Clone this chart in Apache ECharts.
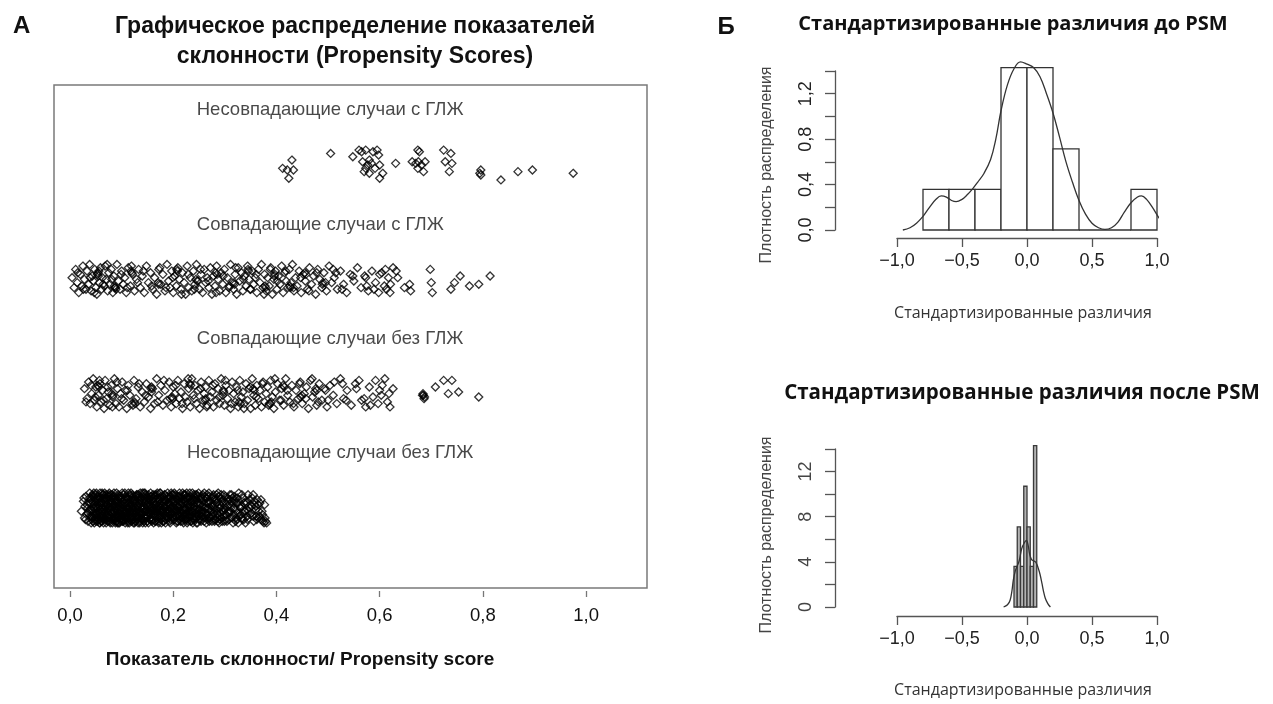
<!DOCTYPE html>
<html><head><meta charset="utf-8">
<script src="https://cdn.jsdelivr.net/npm/echarts@6.0.0/dist/echarts.min.js"></script>
<style>html,body{margin:0;padding:0;background:#fff}#c{width:1273px;height:704px}</style>
</head><body><div id="c"></div>
<script>
// ---------- Panel A data: propensity scores [score, vertical jitter (-9..9)] ----------
const groupNames = ['Несовпадающие случаи с ГЛЖ','Совпадающие случаи с ГЛЖ','Совпадающие случаи без ГЛЖ','Несовпадающие случаи без ГЛЖ'];
const unmatchedLVH = [[.430,-3],[.412,2],[.421,3],[.433,3],[.424,8],[.505,-7],[.548,-5],[.56,-9],[.565,-8],[.573,-9],[.567,-2],[.580,-3],[.587,-8],[.595,-9],[.598,-6],[.577,0],[.584,-1],[.570,4],[.580,5],[.591,2],[.600,0],[.606,5],[.600,8],[.573,2],[.631,-1],[.674,-9],[.677,-8],[.663,-2],[.670,-1],[.675,-2],[.681,0],[.688,-2],[.685,4],[.674,2],[.724,-9],[.738,-7],[.727,-2],[.740,-1],[.735,4],[.796,3],[.796,6],[.794,5],[.835,9],[.868,4],[.896,3],[.975,5]];
const matchedLVH = [[.004,-1],[.008,5],[.011,-6],[.014,2],[.017,8],[.02,-3],[.023,4],[.025,-8],[.028,0],[.031,6],[.033,-5],[.036,3],[.038,-9],[.041,7],[.043,-2],[.045,1],[.048,-6],[.05,5],[.052,9],[.054,-4],[.057,2],[.059,-7],[.061,6],[.063,-1],[.066,4],[.068,-8],[.07,0],[.073,7],[.075,-4],[.078,3],[.08,-6],[.083,8],[.085,-2],[.088,5],[.091,-9],[.094,1],[.097,6],[.1,-5],[.103,3],[.106,-1],[.109,8],[.113,-7],[.117,4],[.121,-3],[.125,7],[.129,0],[.133,-6],[.136,5],[.14,-2],[.144,8],[.148,-8],[.152,2],[.156,-4],[.16,6],[.164,-1],[.168,9],[.172,-6],[.176,3],[.18,-3],[.184,7],[.188,-9],[.191,1],[.194,5],[.197,-5],[.2,8],[.203,-2],[.206,4],[.209,-7],[.212,0],[.215,6],[.218,-4],[.221,2],[.224,9],[.227,-8],[.23,5],[.233,-1],[.236,7],[.239,-5],[.242,3],[.245,-9],[.248,1],[.251,6],[.254,-3],[.257,8],[.26,-6],[.263,2],[.266,-1],[.269,5],[.272,-7],[.275,9],[.278,-2],[.281,4],[.284,-8],[.287,0],[.29,7],[.293,-4],[.296,3],[.299,-6],[.302,8],[.305,-1],[.308,5],[.311,-9],[.314,2],[.317,6],[.32,-3],[.323,9],[.326,-7],[.329,1],[.332,-4],[.335,7],[.338,-2],[.341,4],[.344,-8],[.347,0],[.35,6],[.353,-5],[.356,3],[.359,-1],[.362,8],[.365,-6],[.368,2],[.371,-9],[.374,5],[.377,-3],[.38,7],[.383,-1],[.386,4],[.389,-7],[.392,9],[.395,0],[.398,-5],[.401,6],[.404,-2],[.407,3],[.41,-8],[.413,8],[.416,-4],[.419,1],[.422,5],[.425,-6],[.428,2],[.431,-9],[.434,7],[.437,-1],[.44,4],[.444,-5],[.448,8],[.452,-3],[.456,1],[.46,6],[.464,-7],[.468,3],[.472,-2],[.476,9],[.48,-6],[.484,0],[.488,5],[.492,-4],[.497,7],[.502,-8],[.507,2],[.512,-1],[.518,6],[.524,-5],[.53,3],[.536,8],[.543,-3],[.55,1],[.557,-7],[.564,5],[.571,-2],[.578,7],[.585,-5],[.592,2],[.598,8],[.604,-4],[.609,4],[.613,6],[.617,-1],[.621,3],[.632,-5],[.635,-1],[.648,5],[.658,3],[.66,7],[.698,-6],[.7,2],[.702,8],[.738,6],[.745,2],[.756,-2],[.774,4],[.792,3],[.814,-2],
  [.015,-4],[.026,6],[.039,-1],[.047,8],[.056,-5],[.064,3],[.072,-9],[.081,0],[.089,6],[.099,-3],[.111,5],[.119,-8],[.131,2],[.142,-5],[.158,4],[.174,-7],[.186,5],[.199,-1],[.216,9],[.229,-3],[.241,6],[.253,-6],[.268,1],[.283,8],[.297,-2],[.309,4],[.321,-7],[.336,0],[.349,6],[.361,-3],[.376,9],[.388,-6],[.402,1],[.418,-5],[.433,5],[.447,-1],[.463,7],[.478,-4],[.495,2],[.51,-6],[.527,6],[.548,-2],[.575,4],[.6,-3],[.62,8],[.626,-7],
  [.053,-3],[.055,-2],[.086,4],[.087,5],[.118,-5],[.12,-4],[.171,2],[.172,3],[.207,-6],[.208,-5],[.244,0],[.246,1],[.282,-4],[.285,-3],[.318,2],[.319,3],[.345,-6],[.346,-5],[.378,4],[.379,5],[.396,-2],[.397,-3],[.426,4],[.427,5],[.455,-4],[.457,-3],[.489,3],[.49,2],[.515,-4],[.573,-1],[.589,6],[.611,-6]];
const matchedNoLVH = [[.028,-3],[.033,3],[.036,-7],[.039,6],[.042,0],[.045,-9],[.047,4],[.05,-4],[.052,8],[.055,1],[.058,-6],[.06,5],[.063,-2],[.066,9],[.068,-8],[.071,3],[.074,-1],[.077,7],[.08,-5],[.083,2],[.086,-9],[.089,6],[.092,-3],[.095,8],[.098,0],[.101,-7],[.104,4],[.107,-2],[.11,9],[.113,-5],[.116,1],[.12,6],[.124,-8],[.128,3],[.132,-4],[.136,8],[.14,-1],[.144,5],[.148,-6],[.152,2],[.156,9],[.16,-3],[.164,6],[.168,-9],[.172,1],[.176,-5],[.18,7],[.184,-2],[.188,4],[.192,-7],[.196,8],[.2,-4],[.203,0],[.206,6],[.209,-8],[.212,3],[.215,-1],[.218,9],[.221,-6],[.224,2],[.227,5],[.23,-3],[.233,8],[.236,-9],[.239,1],[.242,-5],[.245,6],[.248,-2],[.251,9],[.254,-7],[.257,4],[.26,0],[.263,-4],[.266,7],[.269,-8],[.272,2],[.275,-1],[.278,8],[.281,-6],[.284,4],[.287,-3],[.29,6],[.293,-9],[.296,1],[.299,7],[.302,-5],[.305,3],[.308,-2],[.311,9],[.314,-7],[.317,0],[.32,5],[.323,-4],[.326,8],[.329,-8],[.332,2],[.335,-1],[.338,6],[.341,-6],[.344,4],[.347,-3],[.35,9],[.353,-9],[.356,1],[.359,7],[.362,-5],[.365,3],[.368,-2],[.371,8],[.374,-7],[.377,5],[.38,0],[.383,-4],[.386,6],[.389,-8],[.392,2],[.395,9],[.398,-1],[.402,-6],[.406,4],[.41,-3],[.414,7],[.418,-9],[.422,1],[.426,5],[.43,-5],[.434,8],[.438,-2],[.442,3],[.446,-7],[.45,6],[.454,0],[.458,-4],[.462,9],[.466,-8],[.47,2],[.474,-1],[.478,7],[.483,-6],[.488,4],[.493,-3],[.498,8],[.504,-5],[.51,1],[.517,6],[.524,-9],[.53,3],[.537,-2],[.545,7],[.553,-6],[.56,-8],[.565,4],[.573,8],[.58,-4],[.587,2],[.592,-8],[.597,6],[.603,1],[.61,-9],[.615,5],[.62,8],[.626,-3],[.683,1],[.685,1],[.687,2],[.708,-4],[.724,-8],[.733,0],[.74,-8],[.753,-1],[.792,2],
  [.031,5],[.041,-5],[.049,2],[.057,-8],[.065,4],[.073,-4],[.082,8],[.091,-7],[.1,3],[.111,-2],[.122,7],[.134,-6],[.146,1],[.158,-1],[.17,5],[.182,-8],[.194,3],[.205,-5],[.217,6],[.229,-9],[.241,3],[.253,-3],[.265,8],[.277,-5],[.289,2],[.301,-8],[.313,6],[.325,-2],[.337,9],[.349,-4],[.361,2],[.373,-6],[.385,7],[.397,-9],[.409,4],[.421,-2],[.433,6],[.445,-6],[.457,3],[.469,-9],[.481,5],[.495,-2],[.512,-7],[.535,4],[.555,-3],[.582,7],[.605,-5],[.618,0],[.684,0],[.686,3],
  [.054,-5],[.056,-4],[.081,0],[.083,1],[.125,5],[.126,6],[.157,-3],[.158,-4],[.198,2],[.199,3],[.232,-6],[.234,-5],[.262,4],[.263,3],[.297,-2],[.298,-1],[.328,5],[.33,6],[.355,-3],[.357,-2],[.388,6],[.39,5],[.413,-5],[.415,-4],[.447,2],[.449,1],[.476,-3],[.478,-2],[.5,4],[.528,-6],[.57,3],[.6,-2]];
const unmatchedNoLVH = [[.022,2],[.026,-4],[.028,6],[.029,-1],[.031,-7],[.032,4],[.034,0],[.035,8],[.036,-3],[.038,-9],[.039,5],[.037,2],[.041,-5],[.042,7],[.043,1],[.044,-8],[.045,3],[.046,-2],[.047,9],[.048,-6],[.049,4],[.044,6],[.046,-9],[.051,0],[.052,-4],[.053,8],[.054,-7],[.055,2],[.056,5],[.057,-1],[.058,-9],[.059,7],[.052,3],[.055,-5],[.058,9],[.061,-3],[.062,6],[.063,-8],[.064,1],[.065,9],[.066,-5],[.067,3],[.068,-1],[.069,7],[.061,4],[.064,-6],[.067,-9],[.069,0],[.071,5],[.072,-2],[.073,8],[.074,-7],[.075,0],[.076,4],[.077,-5],[.078,9],[.079,-3],[.072,2],[.075,-8],[.078,6],[.081,-6],[.082,3],[.083,-1],[.084,7],[.085,-9],[.086,5],[.087,-4],[.088,1],[.089,8],[.083,-7],[.086,-2],[.088,9],[.091,2],[.092,-5],[.093,6],[.094,-8],[.095,0],[.096,4],[.097,-3],[.098,8],[.099,-6],[.092,9],[.095,-1],[.097,3],[.101,-9],[.102,5],[.103,-2],[.104,7],[.105,-5],[.106,1],[.107,9],[.108,-7],[.109,3],[.103,-4],[.106,6],[.109,-1],[.111,0],[.112,-6],[.113,8],[.114,-3],[.115,4],[.116,-8],[.117,2],[.118,6],[.119,-4],[.112,9],[.115,-1],[.118,-9],[.121,7],[.122,-2],[.123,-7],[.124,3],[.125,9],[.126,-5],[.127,0],[.128,5],[.129,-8],[.124,-4],[.127,8],[.131,1],[.132,-6],[.133,6],[.134,-3],[.135,9],[.136,-9],[.137,4],[.138,-1],[.139,7],[.134,2],[.137,-5],[.141,-7],[.142,3],[.143,8],[.144,-4],[.145,0],[.146,6],[.147,-8],[.148,2],[.149,-2],[.143,-9],[.146,9],[.151,5],[.152,-3],[.153,-6],[.154,1],[.155,7],[.156,-9],[.157,4],[.158,-1],[.159,8],[.154,-5],[.161,-4],[.162,9],[.163,2],[.164,-7],[.165,5],[.166,-2],[.167,0],[.168,-8],[.169,6],[.163,-6],[.167,3],[.171,8],[.172,-1],[.173,-5],[.174,4],[.175,-9],[.176,7],[.177,1],[.178,-6],[.179,2],[.175,5],[.181,-3],[.182,6],[.183,-8],[.184,0],[.185,9],[.186,-4],[.187,3],[.188,-7],[.189,5],[.184,-1],[.191,1],[.192,-6],[.193,8],[.194,-2],[.195,4],[.196,-9],[.197,6],[.198,-4],[.199,2],[.195,-7],[.201,7],[.202,-3],[.203,0],[.204,-8],[.205,5],[.206,9],[.207,-5],[.208,2],[.209,-1],[.211,-7],[.212,4],[.213,-2],[.214,8],[.215,-4],[.216,1],[.217,6],[.218,-9],[.219,3],[.221,-5],[.222,7],[.223,0],[.224,-8],[.225,4],[.226,-2],[.227,9],[.228,-6],[.229,2],[.231,5],[.232,-1],[.233,-7],[.234,8],[.235,-4],[.236,2],[.237,-9],[.238,6],[.239,0],[.241,-3],[.242,7],[.243,-6],[.244,3],[.245,9],[.246,-8],[.247,1],[.248,5],[.249,-2],[.251,4],[.253,-5],[.254,8],[.256,-1],[.257,-8],[.259,6],[.255,2],[.261,-7],[.262,3],[.264,9],[.265,-3],[.267,0],[.268,6],[.269,-9],[.271,5],[.272,-4],[.274,1],[.275,8],[.277,-6],[.279,3],[.281,-2],[.282,7],[.284,-8],[.286,4],[.287,-4],[.289,9],[.291,0],[.292,-6],[.294,6],[.296,-3],[.297,2],[.299,8],[.301,-7],[.303,4],[.305,-1],[.307,7],[.309,-5],[.311,2],[.313,-8],[.315,6],[.317,0],[.319,-4],[.321,8],[.323,-3],[.325,3],[.327,-9],[.329,5],[.332,-1],[.334,7],[.336,-6],[.338,2],[.341,-4],[.343,5],[.345,-8],[.348,0],[.351,3],[.353,-6],[.356,8],[.358,-2],[.361,5],[.363,-5],[.366,2],[.368,-3],[.371,7],[.373,4],[.376,9],[.378,6],[.381,9],
  [.027,-6],[.03,7],[.033,-2],[.035,3],[.038,-6],[.04,1],[.041,9],[.043,-4],[.045,-7],[.047,5],[.048,0],[.05,8],[.05,-8],[.051,3],[.053,-2],[.054,6],[.056,-6],[.057,9],[.058,1],[.06,-4],[.06,8],[.062,-9],[.063,2],[.065,-2],[.066,7],[.068,-6],[.07,4],[.07,-8],[.071,1],[.073,-5],[.074,6],[.076,-1],[.077,8],[.079,-8],[.08,3],[.08,-3],[.082,9],[.084,-5],[.085,2],[.087,7],[.089,-3],[.09,5],[.09,-9],[.091,-1],[.093,3],[.094,9],[.096,-7],[.098,1],[.1,6],[.1,-2],[.101,4],[.103,8],[.104,-8],[.106,-3],[.107,2],[.109,7],[.11,-6],[.11,4],[.112,1],[.113,-9],[.114,6],[.116,3],[.117,-2],[.119,8],[.12,-5],[.12,1],[.122,5],[.123,9],[.125,-3],[.126,2],[.128,-7],[.129,7],[.13,-1],[.13,4],[.132,9],[.133,-8],[.135,-4],[.136,3],[.138,6],[.139,-6],[.14,1],[.14,-9],[.142,7],[.144,2],[.145,-6],[.147,5],[.148,-4],[.15,8],[.15,-1],[.152,-8],[.153,3],[.155,-2],[.156,6],[.158,-7],[.159,2],[.16,-5],[.16,7],[.162,0],[.164,4],[.165,-8],[.166,8],[.168,-3],[.169,1],[.17,-6],[.17,5],[.172,9],[.173,-2],[.174,-9],[.176,2],[.177,6],[.178,-4],[.18,8],[.18,-7],[.182,1],[.183,4],[.185,-5],[.186,7],[.188,-1],[.189,-9],[.19,3],[.19,-3],[.192,6],[.193,-7],[.194,9],[.196,0],[.197,-5],[.199,5],[.2,-8],[.2,2],[.202,7],[.204,-4],[.205,1],[.207,8],[.208,-7],[.21,4],[.21,-2],[.212,-9],[.213,7],[.215,3],[.216,-6],[.218,5],[.219,-3],[.22,9],[.22,-8],[.222,1],[.223,-4],[.225,7],[.226,-9],[.228,4],[.229,-1],[.23,6],[.23,-6],[.232,2],[.234,-3],[.235,8],[.237,-5],[.238,3],[.24,-8],[.24,7],[.242,-1],[.244,5],[.245,-5],[.247,9],[.248,-7],[.25,1],[.25,-3],[.252,7],[.254,-6],[.255,5],[.257,3],[.258,-2],[.26,8],[.26,-9],[.262,0],[.263,6],[.265,-6],[.266,4],[.268,-3],[.27,8],[.27,-7],[.273,2],[.275,-2],[.276,5],[.278,-8],[.28,7],[.28,0],[.283,-5],[.285,3],[.287,8],[.288,-7],[.29,5],[.29,-2],[.293,-8],[.295,2],[.297,-5],[.298,5],[.3,1],[.302,-3],[.304,8],[.306,-6],[.308,3],[.31,-2],[.312,6],[.314,-4],[.316,9],[.318,-7],[.32,1],[.322,6],[.324,-6],[.326,9],[.328,-1],[.331,4],[.333,-8],[.335,3],[.337,7],[.34,2],[.342,-3],[.344,7],[.347,-5],[.349,4],[.352,-1],[.355,5],[.357,-4],[.36,1],[.362,7],[.365,-2],[.367,5],[.37,-5],[.372,2],[.374,8],[.377,-2],[.379,8],
  [.04,-3],[.042,5],[.043,-7],[.045,8],[.046,0],[.048,-4],[.049,6],[.05,-1],[.051,-9],[.053,4],[.054,0],[.055,7],[.057,-3],[.058,3],[.059,-6],[.061,8],[.062,-1],[.063,5],[.065,-8],[.066,1],[.067,6],[.068,-4],[.07,9],[.071,-2],[.072,-6],[.073,3],[.075,6],[.076,-9],[.077,2],[.079,0],[.08,7],[.081,-4],[.082,-8],[.084,3],[.085,6],[.086,-1],[.087,-7],[.089,4],[.09,0],[.091,8],[.093,-3],[.094,-6],[.095,5],[.096,9],[.098,-5],[.099,2],[.1,-7],[.101,0],[.102,8],[.104,3],[.105,-1],[.106,-9],[.107,5],[.108,2],[.11,-3],[.111,7],[.112,-5],[.114,0],[.115,9],[.116,-7],[.117,5],[.118,-2],[.12,3],[.121,-8],[.122,0],[.124,6],[.125,-5],[.126,8],[.127,-3],[.129,2],[.13,-8],[.131,5],[.132,-1],[.134,8],[.135,3],[.136,-6],[.138,0],[.139,4],[.14,-4],[.141,9],[.143,-1],[.144,5],[.145,-9],[.147,1],[.148,6],[.149,-6],[.15,3],[.152,9],[.153,-4],[.154,-1],[.156,3],[.157,-7],[.158,7],[.16,1],[.161,-8],[.162,4],[.164,-2],[.165,8],[.166,-5],[.168,2],[.169,-9],[.17,0],[.172,-4],[.173,6],[.174,1],[.176,-7],[.177,9],[.178,3],[.18,-1],[.181,-5],[.182,8],[.184,-8],[.185,2],[.186,-2],[.188,6],[.189,1],[.19,-6],[.192,3],[.193,-3],[.194,0],[.196,7],[.197,-8],[.198,3],[.2,-5],[.201,0],[.202,-9],[.204,5],[.205,-2],[.206,2],[.208,-5],[.209,8],[.21,0],[.212,-4],[.213,5],[.214,-7],[.216,2],[.217,-2],[.218,8],[.22,-5],[.221,4],[.222,-8],[.224,1],[.225,-6],[.226,6],[.228,-3],[.229,8],[.23,0],[.232,-9],[.233,4],[.234,-1],[.236,5],[.237,-6],[.238,9],[.24,2],[.241,-5],[.242,1],[.244,-8],[.245,6],[.246,-3],[.248,3],[.249,-9],[.25,7],[.252,-2],[.253,3],[.255,-7],[.256,5],[.258,-4],[.259,2],[.261,0],[.263,-6],[.264,4],[.266,-8],[.267,7],[.269,1],[.27,-4],[.272,6],[.274,-1],[.276,-7],[.277,3],[.279,-5],[.28,8],[.282,1],[.284,-3],[.285,6],[.287,-9],[.289,0],[.29,7],[.292,3],[.294,-4],[.295,8],[.297,0],[.298,-8],[.3,4],[.302,7],[.305,-4],[.307,2],[.31,-8],[.312,0],[.315,-6],[.318,4],[.32,-5],[.323,7],[.326,-3],[.33,0],[.333,6],[.337,-3],[.34,9],[.345,2],[.35,-2],[.355,-8],[.36,-1],[.364,6]];
const xTicksA = [0, 0.2, 0.4, 0.6, 0.8, 1.0];

// ---------- Panel B data ----------
const histBeforeEdges = [-0.8,-0.6,-0.4,-0.2,0,0.2,0.4,0.6,0.8,1.0];
const histBeforeDensity = [0.357,0.357,0.357,1.43,1.43,0.714,0,0,0.357];
const kdeBeforeX = [-0.955,-0.9,-0.85,-0.8,-0.75,-0.7,-0.66,-0.62,-0.58,-0.545,-0.5,-0.46,-0.42,-0.38,-0.33,-0.28,-0.24,-0.2,-0.15,-0.1,-0.05,0,0.05,0.1,0.15,0.2,0.25,0.3,0.35,0.4,0.45,0.5,0.55,0.6,0.65,0.7,0.75,0.8,0.85,0.88,0.92,0.97,1.02,1.07,1.12,1.155];
const kdeBeforeY = [0,0.02,0.06,0.12,0.2,0.27,0.3,0.29,0.26,0.25,0.27,0.31,0.36,0.42,0.5,0.62,0.8,1.05,1.28,1.42,1.48,1.46,1.43,1.35,1.2,1.03,0.82,0.6,0.42,0.26,0.14,0.06,0.02,0.005,0.02,0.07,0.16,0.24,0.29,0.3,0.27,0.19,0.1,0.04,0.01,0];
const histAfterEdges = [-0.1,-0.075,-0.05,-0.025,0,0.025,0.05,0.075];
const histAfterDensity = [3.6,7.1,3.6,10.7,7.1,3.6,14.3];
const kdeAfterX = [-0.18,-0.15,-0.13,-0.115,-0.105,-0.09,-0.08,-0.06,-0.04,-0.02,-0.005,0.01,0.02,0.035,0.05,0.065,0.075,0.09,0.1,0.115,0.125,0.14,0.16,0.18];
const kdeAfterY = [0,0.2,0.6,1.5,2.4,3.2,3.5,4.1,5.2,5.7,5.9,5.4,4.7,4.2,4.1,4.0,3.8,3.3,2.9,2.1,1.5,0.8,0.3,0];

// ---------- chart ----------
const SANS = "'Liberation Sans', Arial, sans-serif";
const OPEN = "'Open Sans', 'Noto Sans', sans-serif";
const comma = v => (Math.abs(v) < 1e-9 ? 0 : v).toFixed(1).replace('.', ',').replace('-', '\u2212');
const JIT = 0.0145; // jitter unit in y-axis units

function strip(points, row) {
  return {
    type: 'scatter', xAxisIndex: 0, yAxisIndex: 0,
    data: points.map(p => [p[0], row + 0.7 + p[1] * JIT]),
    symbol: 'diamond', symbolSize: 8, large: false,
    itemStyle: { color: 'rgba(0,0,0,0)', borderColor: '#000', borderWidth: 1.3 },
    silent: true, animation: false
  };
}
function bars(xi, yi, edges, dens, fill, stroke) {
  return {
    type: 'custom', xAxisIndex: xi, yAxisIndex: yi, clip: false, silent: true, animation: false,
    data: dens.map((d, i) => [edges[i], edges[i + 1], d]),
    encode: { x: [0, 1], y: 2 },
    renderItem(params, api) {
      const p0 = api.coord([api.value(0), 0]);
      const p1 = api.coord([api.value(1), api.value(2)]);
      return { type: 'rect', shape: { x: p0[0], y: p1[1], width: p1[0] - p0[0], height: p0[1] - p1[1] },
        style: { fill: fill, stroke: stroke, lineWidth: 1.3 } };
    }
  };
}
function kde(xi, yi, xs, ys) {
  return { type: 'line', xAxisIndex: xi, yAxisIndex: yi, data: xs.map((x, i) => [x, ys[i]]),
    smooth: 0.4, symbol: 'none', clip: false, silent: true, animation: false,
    lineStyle: { color: '#333', width: 1.3 } };
}
const lineB = { color: '#555', width: 1.3 };

const option = {
  backgroundColor: '#fff',
  animation: false,
  grid: [
    { left: 54, top: 85, width: 593, height: 503, show: true, borderColor: '#7a7a7a', borderWidth: 1.5, backgroundColor: 'transparent' },
    { left: 897, top: 71, width: 260, height: 159 },
    { left: 897, top: 449, width: 260, height: 158 }
  ],
  xAxis: [
    { type: 'value', gridIndex: 0, min: -0.031, max: 1.118, offset: 3, position: 'bottom',
      axisLine: { show: false, onZero: false }, splitLine: { show: false },
      axisTick: { show: true, length: 6, customValues: xTicksA, lineStyle: { color: '#777', width: 1.3 } },
      axisLabel: { customValues: xTicksA, formatter: comma, margin: 15, fontSize: 18.5, color: '#111', fontFamily: SANS } },
    { type: 'value', gridIndex: 1, min: -1, max: 1, interval: 0.5, offset: 8, position: 'bottom',
      axisLine: { show: true, onZero: false, lineStyle: lineB }, splitLine: { show: false },
      axisTick: { length: 9, lineStyle: lineB },
      axisLabel: { formatter: comma, margin: 14, fontSize: 18, color: '#222', fontFamily: SANS, showMinLabel: true, showMaxLabel: true } },
    { type: 'value', gridIndex: 2, min: -1, max: 1, interval: 0.5, offset: 9, position: 'bottom',
      axisLine: { show: true, onZero: false, lineStyle: lineB }, splitLine: { show: false },
      axisTick: { length: 9, lineStyle: lineB },
      axisLabel: { formatter: comma, margin: 14, fontSize: 18, color: '#222', fontFamily: SANS, showMinLabel: true, showMaxLabel: true } }
  ],
  yAxis: [
    { type: 'value', gridIndex: 0, min: 0, max: 4.4, inverse: true, show: false },
    { type: 'value', gridIndex: 1, min: 0, max: 1.4, interval: 0.2, offset: 62, position: 'left',
      axisLine: { show: true, onZero: false, lineStyle: lineB }, splitLine: { show: false },
      axisTick: { show: true, length: 10, lineStyle: lineB },
      axisLabel: { rotate: 90, margin: 20, fontSize: 18, color: '#222', fontFamily: SANS,
        formatter: v => (Math.round(v * 10) % 4 === 0 ? comma(v) : '') } },
    { type: 'value', gridIndex: 2, min: 0, max: 14, interval: 2, offset: 62, position: 'left',
      axisLine: { show: true, onZero: false, lineStyle: lineB }, splitLine: { show: false },
      axisTick: { show: true, length: 10, lineStyle: lineB },
      axisLabel: { rotate: 90, margin: 20, fontSize: 18, color: '#444', fontFamily: SANS,
        formatter: v => (v % 4 === 0 ? String(v) : '') } }
  ],
  series: [
    strip(unmatchedLVH, 0), strip(matchedLVH, 1), strip(matchedNoLVH, 2), strip(unmatchedNoLVH, 3),
    { type: 'scatter', xAxisIndex: 0, yAxisIndex: 0, silent: true, animation: false,
      symbolSize: 1, itemStyle: { color: 'rgba(0,0,0,0)' },
      data: groupNames.map((n, k) => ({ name: n, value: [k === 1 ? 0.485 : 0.504, k + 0.22] })),
      label: { show: true, position: 'inside', formatter: p => p.name, fontSize: 18.5, color: '#1a1a1a', fontFamily: SANS } },
    bars(1, 1, histBeforeEdges, histBeforeDensity, '#fff', '#333'),
    kde(1, 1, kdeBeforeX, kdeBeforeY),
    bars(2, 2, histAfterEdges, histAfterDensity, '#b3b3b3', '#3a3a3a'),
    kde(2, 2, kdeAfterX, kdeAfterY)
  ],
  graphic: [
    { type: 'text', left: 13, top: 14, style: { text: 'А', font: "bold 24px " + SANS, fill: '#111' } },
    { type: 'text', x: 355, y: 27, style: { text: 'Графическое распределение показателей', font: "bold 23px " + SANS, fill: '#111', align: 'center', verticalAlign: 'middle' } },
    { type: 'text', x: 355, y: 57, style: { text: 'склонности (Propensity Scores)', font: "bold 23px " + SANS, fill: '#111', align: 'center', verticalAlign: 'middle' } },
    { type: 'text', x: 300, y: 660, style: { text: 'Показатель склонности/ Propensity score', font: "bold 19px " + SANS, fill: '#111', align: 'center', verticalAlign: 'middle' } },
    { type: 'text', x: 726, y: 27, style: { text: 'Б', font: "bold 24px " + SANS, fill: '#111', align: 'center', verticalAlign: 'middle' } },
    { type: 'text', x: 1013, y: 24, style: { text: 'Стандартизированные различия до PSM', font: "bold 20px " + OPEN, fill: '#111', align: 'center', verticalAlign: 'middle' } },
    { type: 'text', x: 1022, y: 393, style: { text: 'Стандартизированные различия после PSM', font: "bold 20.5px " + OPEN, fill: '#111', align: 'center', verticalAlign: 'middle' } },
    { type: 'text', x: 1023, y: 313, style: { text: 'Стандартизированные различия', font: "16px " + OPEN, fill: '#333', align: 'center', verticalAlign: 'middle' } },
    { type: 'text', x: 1023, y: 690, style: { text: 'Стандартизированные различия', font: "16px " + OPEN, fill: '#333', align: 'center', verticalAlign: 'middle' } },
    { type: 'text', x: 767, y: 165, rotation: Math.PI / 2, style: { text: 'Плотность распределения', font: "16px " + SANS, fill: '#444', align: 'center', verticalAlign: 'middle' } },
    { type: 'text', x: 767, y: 535, rotation: Math.PI / 2, style: { text: 'Плотность распределения', font: "16px " + SANS, fill: '#444', align: 'center', verticalAlign: 'middle' } }
  ]
};
const chart = echarts.init(document.getElementById('c'), null, { renderer: 'canvas' });
chart.setOption(option);
</script></body></html>
